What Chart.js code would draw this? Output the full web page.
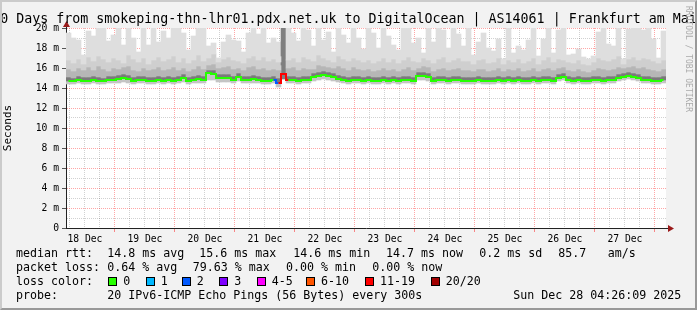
<!DOCTYPE html>
<html><head><meta charset="utf-8">
<script src="https://cdn.jsdelivr.net/npm/chart.js@4/dist/chart.umd.min.js"></script>
<style>
html,body{margin:0;padding:0;background:#f2f2f2;}
#wrap{position:relative;width:697px;height:310px;overflow:hidden;background:#f2f2f2;}
#c{position:absolute;left:0;top:0;}
#frame{position:absolute;left:0;top:0;width:697px;height:310px;box-sizing:border-box;border-top:2px solid #cbcbcb;border-left:2px solid #cbcbcb;border-right:2px solid #999;border-bottom:2px solid #999;pointer-events:none;}
.t{position:absolute;font-family:"DejaVu Sans Mono",monospace;white-space:pre;color:#000;font-size:11.63px;line-height:14px;}
#title{position:absolute;left:-200px;width:1097px;top:10.5px;text-align:center;font-family:"DejaVu Sans Mono",monospace;font-size:13.3px;line-height:16px;white-space:pre;color:#000;}
.sq{position:absolute;width:7px;height:7px;border:1px solid #000;top:277px;}
#rrd{position:absolute;left:684px;top:6px;writing-mode:vertical-rl;font-family:"DejaVu Sans Mono",monospace;font-size:8px;color:#aaa;white-space:pre;}
</style>
</head><body>
<div id="wrap">
<canvas id="c" width="697" height="310"></canvas>
<div id="title">10 Days from smokeping-thn-lhr01.pdx.net.uk to DigitalOcean | AS14061 | Frankfurt am Main</div>
<div id="rrd">RRDTOOL / TOBI OETIKER</div>
<div id="legend"></div>
<div id="frame"></div>
</div>
<script>
// ---- data (2-hour bins from Dec 18 04:26:09 to Dec 28 04:26:09) ----
const START_OFFSET_HOURS = 4 + 26/60 + 9/3600; // start time after midnight, 18 Dec
const BIN_HOURS = 2;
const dayLabels = ['18 Dec','19 Dec','20 Dec','21 Dec','22 Dec','23 Dec','24 Dec','25 Dec','26 Dec','27 Dec'];
const yTickLabels = ['0','','2 m','','4 m','','6 m','','8 m','','10 m','','12 m','','14 m','','16 m','','18 m','','20 m'];

const median = [
14.7,14.7,14.8,14.7,14.7,14.8,14.7,14.7,14.8,14.8,14.9,15.0,14.9,14.7,14.8,14.8,14.7,14.7,14.8,14.7,
14.8,14.7,14.8,15.0,14.7,14.8,14.9,14.8,15.5,15.4,15.0,15.0,15.0,14.8,15.1,14.8,14.8,14.9,14.8,14.7,
14.7,14.8,14.5,15.4,14.8,14.8,14.7,14.8,14.8,15.1,15.2,15.3,15.2,15.1,14.9,14.8,14.7,14.8,14.8,14.7,
14.8,14.7,14.7,14.8,14.7,14.8,14.7,14.8,14.8,14.7,15.2,15.2,15.1,14.7,14.8,14.8,14.7,14.8,14.8,14.7,
14.7,14.7,14.8,14.7,14.7,14.7,14.8,14.7,14.8,14.7,14.8,14.7,14.7,14.8,14.7,14.8,14.8,14.7,15.0,15.1,
14.8,14.7,14.8,14.7,14.7,14.8,14.8,14.7,14.8,14.8,15.0,15.1,15.2,15.1,15.0,14.8,14.8,14.7,14.7,14.8];

const loss = [
0,0,0,0,0,0,0,0,0,0,0,0,0,0,0,0,0,0,0,0,
0,0,0,0,0,0,0,0,0,0,0,0,0,0,0,0,0,0,0,0,
0,0,2,15,0,0,0,0,0,0,0,0,0,0,0,0,0,0,0,0,
0,0,0,0,0,0,0,0,0,0,0,0,0,0,0,0,0,0,0,0,
0,0,0,0,0,0,0,0,0,0,0,0,0,0,0,0,0,0,0,0,
0,0,0,0,0,0,0,0,0,0,0,0,0,0,0,0,0,0,0,0];

const smokeMin = [
14.4,14.4,14.5,14.4,14.4,14.5,14.4,14.4,14.5,14.5,14.5,14.6,14.5,14.4,14.5,14.5,14.4,14.4,14.5,14.4,
14.5,14.4,14.5,14.6,14.4,14.5,14.5,14.5,14.8,14.8,14.6,14.6,14.6,14.5,14.7,14.5,14.5,14.5,14.5,14.4,
14.4,14.5,14.1,14.9,14.5,14.5,14.4,14.5,14.5,14.7,14.8,14.9,14.8,14.7,14.6,14.5,14.4,14.5,14.5,14.4,
14.5,14.4,14.4,14.5,14.4,14.5,14.4,14.5,14.5,14.4,14.8,14.8,14.7,14.4,14.5,14.5,14.4,14.5,14.5,14.4,
14.4,14.4,14.5,14.4,14.4,14.4,14.5,14.4,14.5,14.4,14.5,14.4,14.4,14.5,14.4,14.5,14.5,14.4,14.7,14.8,
14.5,14.4,14.5,14.4,14.4,14.5,14.5,14.4,14.5,14.5,14.7,14.8,14.9,14.8,14.7,14.5,14.5,14.4,14.4,14.5];

const smokeQ1 = [
15.1,15.0,15.2,15.1,15.1,15.2,15.1,15.0,15.2,15.2,15.3,15.4,15.3,15.1,15.2,15.2,15.1,15.1,15.2,15.1,
15.2,15.1,15.2,15.4,15.1,15.2,15.3,15.2,15.8,15.8,15.4,15.4,15.4,15.2,15.5,15.2,15.2,15.3,15.2,15.1,
15.1,15.2,15.0,15.9,15.2,15.2,15.1,15.2,15.2,15.5,15.6,15.7,15.6,15.5,15.3,15.2,15.1,15.2,15.2,15.1,
15.2,15.1,15.1,15.2,15.1,15.2,15.1,15.2,15.2,15.1,15.6,15.6,15.5,15.1,15.2,15.2,15.1,15.2,15.2,15.1,
15.1,15.1,15.2,15.1,15.1,15.1,15.2,15.1,15.2,15.1,15.2,15.1,15.1,15.2,15.1,15.2,15.2,15.1,15.4,15.5,
15.2,15.1,15.2,15.1,15.1,15.2,15.2,15.1,15.2,15.2,15.4,15.5,15.6,15.5,15.4,15.2,15.2,15.1,15.1,15.2];

const smokeQ2 = [
15.9,15.7,16.0,15.8,16.1,15.8,16.2,15.9,15.7,16.0,15.9,16.1,16.2,15.8,15.7,16.0,15.8,15.9,16.1,15.8,
15.9,16.1,15.8,16.0,15.7,15.9,16.2,15.9,16.3,16.4,16.0,16.1,16.2,15.9,16.0,15.8,16.1,16.2,15.9,16.0,
15.8,15.9,15.8,16.3,16.0,16.1,15.8,16.0,15.9,15.9,16.3,16.2,16.1,16.0,16.2,16.0,15.8,16.1,15.9,15.8,
15.9,15.7,15.8,16.0,15.8,15.9,15.7,15.9,16.1,15.8,16.0,16.2,16.1,15.7,15.9,16.0,15.8,15.9,16.0,15.8,
15.8,15.7,15.9,15.9,15.7,15.8,16.0,15.7,15.9,15.8,16.0,15.7,15.8,16.0,15.7,15.9,16.0,15.8,16.0,16.1,
15.8,15.7,15.9,15.7,15.6,15.8,16.0,15.9,15.8,15.9,16.1,16.0,16.1,16.2,16.0,16.1,15.9,15.8,15.7,15.9];

const smokeQ3 = [
16.8,16.5,16.9,16.4,17.1,16.7,17.2,16.9,16.6,17.0,16.8,16.5,17.3,16.9,16.6,17.0,16.4,16.8,17.1,16.7,
16.9,17.2,16.6,17.0,16.5,16.8,17.3,16.7,17.0,17.4,16.6,16.9,17.1,16.8,16.7,16.5,17.0,17.2,16.8,17.1,
16.7,16.9,16.6,17.2,16.8,17.0,16.6,17.1,16.9,16.7,17.3,17.0,16.8,16.6,17.2,16.9,16.7,17.0,16.8,16.6,
16.8,16.5,16.7,17.0,16.6,16.9,16.5,16.8,17.1,16.7,16.6,17.0,16.8,16.5,16.9,17.1,16.6,16.8,17.0,16.7,
16.7,16.4,16.8,16.9,16.5,16.6,17.0,16.4,16.8,16.6,16.9,16.5,16.7,17.0,16.4,16.8,17.1,16.6,16.9,16.8,
16.6,16.5,16.8,16.4,16.3,16.6,17.0,16.8,16.7,16.9,17.2,16.4,16.9,17.1,16.8,17.0,16.9,16.7,16.5,16.8];

const smokeMax = [
19.5,19.0,18.8,17.3,19.7,19.2,20,20,18.7,19.3,20,18.3,20,19.0,17.6,20,18.3,20,18.6,19.7,
19.0,20,20,19.5,17.8,19.2,20,20,18.2,18.5,17.0,18.6,19.3,18.8,18.7,17.6,19.5,20,19.4,20,
18.5,19.0,18.6,20,20,19.5,18.7,20,19.8,18.2,20,18.8,19.6,17.6,20,19.3,18.5,20,19.0,17.9,
20,19.5,18.0,20,19.2,18.3,17.8,20,20,18.5,19.0,17.5,20,18.6,20,19.8,18.0,20,19.4,18.2,
20,17.3,18.6,19.5,18.0,17.7,18.9,16.9,20,17.5,18.2,17.8,18.8,20,17.2,18.9,20,17.5,19.8,20,
17.3,17.4,17.9,17.1,16.9,17.2,19.6,20,18.4,18.2,20,16.9,19.9,20,20,19.8,20,18.9,17.0,19.7];

const lossLegend = ['0','1','2','3','4-5','6-10','11-19','20/20'];
const lossColors = ['#26ff00','#00b8ff','#0059ff','#7e00ff','#ff00ff','#ff5500','#ff0000','#a10000'];

// ---- helpers ----
const FONT = '"DejaVu Sans Mono", monospace';
function lossColor(l){
  if (l <= 0) return lossColors[0];
  if (l === 1) return lossColors[1];
  if (l === 2) return lossColors[2];
  if (l === 3) return lossColors[3];
  if (l <= 5) return lossColors[4];
  if (l <= 10) return lossColors[5];
  if (l <= 19) return lossColors[6];
  return lossColors[7];
}
const binCenters = median.map((_, i) => i * BIN_HOURS + BIN_HOURS / 2);
const band = (lo, hi) => binCenters.map((x, i) => ({x, y: [lo[i], hi[i]]}));
const lossy = i => loss[i] >= 10;
const bandDs = (lo, hi, color) => ({
  type: 'bar', data: band(lo, hi),
  backgroundColor: ctx => lossy(ctx.dataIndex) ? '#7f7f7f' : color,
  borderWidth: 0, grouped: false, barPercentage: 1, categoryPercentage: 1, order: 2
});
const hourOfDay = v => ((v + START_OFFSET_HOURS) % 24 + 24) % 24;
const isMidnight = v => Math.abs(hourOfDay(v)) < 0.01 || Math.abs(hourOfDay(v) - 24) < 0.01;
const isNoon = v => Math.abs(hourOfDay(v) - 12) < 0.01;
const xTicks = [];
for (let h = 6 - START_OFFSET_HOURS; h <= 240; h += 6) xTicks.push(h);

const bgPlugin = {
  id: 'bg',
  beforeDraw(chart){
    const {ctx, chartArea: a} = chart;
    ctx.save(); ctx.fillStyle = '#ffffff';
    ctx.fillRect(a.left, a.top, a.right - a.left, a.bottom - a.top);
    ctx.restore();
  },
  afterDraw(chart){
    const {ctx, chartArea: a} = chart;
    ctx.save();
    ctx.strokeStyle = '#222'; ctx.lineWidth = 1;
    ctx.beginPath();
    ctx.moveTo(a.left + 0.5, a.top); ctx.lineTo(a.left + 0.5, a.top - 4);
    ctx.moveTo(a.right, a.bottom + 0.5); ctx.lineTo(a.right + 4, a.bottom + 0.5);
    ctx.stroke();
    ctx.fillStyle = '#9a1a1a';
    ctx.beginPath();
    ctx.moveTo(a.left + 0.5, a.top - 7); ctx.lineTo(a.left - 3, a.top - 1); ctx.lineTo(a.left + 4, a.top - 1); ctx.closePath(); ctx.fill();
    ctx.beginPath();
    ctx.moveTo(a.right + 8, a.bottom + 0.5); ctx.lineTo(a.right + 2, a.bottom - 3); ctx.lineTo(a.right + 2, a.bottom + 4); ctx.closePath(); ctx.fill();
    ctx.restore();
  }
};

new Chart(document.getElementById('c'), {
  type: 'bar',
  data: {
    datasets: [
      bandDs(smokeQ3, smokeMax, '#dedede'),
      bandDs(smokeQ2, smokeQ3, '#cfcfcf'),
      bandDs(smokeQ1, smokeQ2, '#b6b6b6'),
      bandDs(median, smokeQ1, '#7a7a7a'),
      bandDs(smokeMin, median, '#c4c4c4'),
      {
        type: 'line',
        data: binCenters.map((x, i) => ({x, y: median[i]})),
        borderColor: lossColors[0], borderWidth: 2, pointRadius: 0, stepped: 'middle',
        segment: { borderColor: ctx => lossColor(Math.max(loss[ctx.p0DataIndex], loss[ctx.p1DataIndex])) },
        order: 0
      }
    ]
  },
  options: {
    responsive: false, animation: false,
    layout: { padding: { left: 0, top: 28, right: 31, bottom: 62 } },
    plugins: { legend: { display: false }, tooltip: { enabled: false } },
    scales: {
      x: {
        type: 'linear', min: 0, max: 240, offset: false, z: 1,
        afterBuildTicks: s => { s.ticks = xTicks.map(v => ({value: v})); },
        afterFit: s => { s.height = 20; },
        ticks: {
          autoSkip: false, maxRotation: 0, minRotation: 0, padding: 2, color: '#000',
          font: { family: FONT, size: 9.7 },
          callback: v => isNoon(v) ? dayLabels[Math.floor((v + START_OFFSET_HOURS) / 24)] : ''
        },
        grid: {
          offset: false, lineWidth: 1, tickLength: 4,
          color: c => (c.tick && isMidnight(c.tick.value)) ? 'rgba(255,0,0,0.35)' : 'rgba(0,0,0,0.18)',
          tickColor: c => (c.tick && isMidnight(c.tick.value)) ? 'rgba(255,0,0,0.45)' : 'rgba(0,0,0,0)'
        },
        border: { display: true, color: '#222', width: 1, dash: [1, 1] }
      },
      y: {
        type: 'linear', min: 0, max: 20, z: 1,
        afterBuildTicks: s => { s.ticks = yTickLabels.map((_, i) => ({value: i})); },
        afterFit: s => { s.width = 66; },
        ticks: {
          padding: 3, color: '#000', autoSkip: false,
          font: { family: FONT, size: 9.7 },
          callback: (v) => yTickLabels[Math.round(v)]
        },
        title: { display: true, text: 'Seconds', color: '#000', font: { family: FONT, size: 11 }, padding: { top: 2, bottom: 0 } },
        grid: {
          lineWidth: 1, tickLength: 4,
          color: c => (c.tick && c.tick.value % 2 === 0) ? 'rgba(255,0,0,0.35)' : 'rgba(0,0,0,0.18)',
          tickColor: c => (c.tick && c.tick.value % 2 === 0) ? '#555' : 'rgba(0,0,0,0)'
        },
        border: { display: true, color: '#222', width: 1, dash: [1, 1] }
      }
    }
  },
  plugins: [bgPlugin]
});

// ---- legend text ----
const L = document.getElementById('legend');
function put(text, x, y){ const d = document.createElement('div'); d.className = 't'; d.textContent = text; d.style.left = x + 'px'; d.style.top = y + 'px'; L.appendChild(d); }
put('median rtt:', 16, 246); put('14.8 ms avg', 107.3, 246); put('15.6 ms max', 199.3, 246); put('14.6 ms min', 293.3, 246);
put('14.7 ms now', 386, 246); put('0.2 ms sd', 479.3, 246); put('85.7', 558.3, 246); put('am/s', 607.7, 246);
put('packet loss:', 16, 260); put('0.64 % avg', 107.3, 260); put('79.63 % max', 192.7, 260); put('0.00 % min', 286, 260); put('0.00 % now', 372.3, 260);
put('loss color:', 16, 274);
const sqX = [108.3, 145.7, 181.7, 219.3, 256.7, 306, 365, 430.7];
lossLegend.forEach((lab, i) => {
  const s = document.createElement('div'); s.className = 'sq'; s.style.left = sqX[i] + 'px'; s.style.background = lossColors[i]; L.appendChild(s);
  put(lab, sqX[i] + 15, 274);
});
put('probe:', 16, 288); put('20 IPv6-ICMP Echo Pings (56 Bytes) every 300s', 107.3, 288); put('Sun Dec 28 04:26:09 2025', 513.3, 288);
</script>
</body></html>
